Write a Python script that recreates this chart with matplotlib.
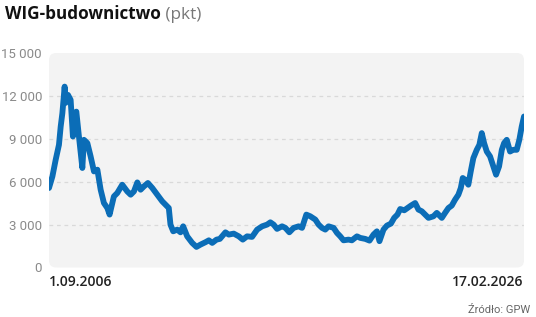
import matplotlib
matplotlib.use("Agg")
import matplotlib.pyplot as plt
import numpy as np
import pandas as pd
from matplotlib.patches import FancyBboxPatch
from matplotlib.ticker import FuncFormatter

# WIG-budownictwo, index points
dates = [
    "2006-09-01", "2006-10-22", "2006-12-10", "2007-01-28", "2007-02-23", "2007-03-20",
    "2007-04-23", "2007-05-08", "2007-06-12", "2007-07-22", "2007-08-25", "2007-10-15",
    "2007-11-23", "2008-01-13", "2008-02-06", "2008-03-28", "2008-05-16", "2008-07-05",
    "2008-08-25", "2008-10-13", "2008-12-01", "2009-01-21", "2009-02-24", "2009-04-29",
    "2009-06-19", "2009-09-01", "2009-11-15", "2010-01-05", "2010-02-23", "2010-04-15",
    "2010-06-03", "2010-07-22", "2010-09-20", "2010-11-25", "2011-02-07", "2011-04-22",
    "2011-06-10", "2011-07-30", "2011-08-24", "2011-10-04", "2011-12-03", "2012-01-21",
    "2012-03-01", "2012-04-30", "2012-07-14", "2012-09-16", "2012-11-15", "2013-01-29",
    "2013-03-20", "2013-05-10", "2013-07-13", "2013-09-01", "2013-11-24", "2014-01-12",
    "2014-03-28", "2014-06-11", "2014-08-10", "2014-10-14", "2014-12-27", "2015-03-13",
    "2015-05-27", "2015-08-09", "2015-09-27", "2015-11-15", "2016-01-05", "2016-03-20",
    "2016-05-09", "2016-07-07", "2016-09-09", "2016-11-23", "2017-01-13", "2017-03-18",
    "2017-05-17", "2017-07-31", "2017-09-18", "2017-11-08", "2017-12-27", "2018-02-14",
    "2018-05-01", "2018-06-20", "2018-08-08", "2018-09-26", "2018-12-09", "2019-01-29",
    "2019-04-15", "2019-06-03", "2019-08-17", "2019-10-20", "2019-12-18", "2020-02-07",
    "2020-03-17", "2020-05-16", "2020-07-06", "2020-09-04", "2020-10-23", "2020-12-11",
    "2021-01-21", "2021-03-23", "2021-05-11", "2021-07-01", "2021-09-02", "2021-10-21",
    "2021-12-11", "2022-01-30", "2022-03-20", "2022-06-03", "2022-07-23", "2022-10-06",
    "2022-11-24", "2023-01-13", "2023-03-04", "2023-04-22", "2023-06-11", "2023-07-17",
    "2023-08-15", "2023-09-19", "2023-11-07", "2023-12-13", "2024-01-21", "2024-03-12",
    "2024-04-20", "2024-05-26", "2024-06-30", "2024-08-09", "2024-09-27", "2024-11-15",
    "2024-12-26", "2025-02-09", "2025-03-22", "2025-04-25", "2025-06-04", "2025-07-23",
    "2025-09-10", "2025-10-31", "2025-12-09", "2026-01-14", "2026-02-17",
]
values = [
    5560, 6370, 7535, 8580, 9860, 10790,
    12650, 11510, 12070, 11720, 9160, 10900,
    9160, 6960, 8930, 8700, 7770, 6720,
    6840, 5440, 4510, 4160, 3700, 4970,
    5210, 5790, 5320, 5090, 5320, 5950,
    5440, 5670, 5910, 5560, 5090, 4630,
    4400, 4160, 3000, 2530, 2650, 2460,
    2880, 2180, 1720, 1440, 1600, 1770,
    1900, 1720, 1950, 2000, 2460, 2300,
    2370, 2180, 1950, 2180, 2140, 2650,
    2880, 3000, 3160, 3000, 2700, 2880,
    2770, 2460, 2770, 2880, 2770, 3700,
    3580, 3350, 3000, 2770, 2650, 2880,
    2770, 2420, 2180, 1900, 1950, 1900,
    2180, 2070, 2000, 1880, 2300, 2530,
    1840, 2650, 2930, 3070, 3470, 3700,
    4090, 4000, 4160, 4330, 4510, 4050,
    3930, 3700, 3470, 3580, 3820, 3470,
    3820, 4160, 4330, 4740, 5090, 5560,
    6260, 6140, 5790, 6720, 7650, 8230,
    8580, 9400, 8700, 8110, 7770, 7070,
    6490, 7070, 8230, 8700, 8930, 8110,
    8230, 8230, 8930, 9860, 10560,
]
y_ticks = [0, 3000, 6000, 9000, 12000, 15000]
start_label = "1.09.2006"
end_label = "17.02.2026"

x = pd.to_datetime(dates)

fig = plt.figure(figsize=(5.36, 3.17), dpi=100)
ax = fig.add_axes([49 / 536, 1 - 267.5 / 317, 475 / 536, 214.5 / 317])
ax.set_facecolor("none")

# rounded light-gray plot background
bg = FancyBboxPatch((0, 0), 1, 1, boxstyle="round,pad=0,rounding_size=0.015",
                    transform=ax.transAxes, facecolor="#f3f3f3", edgecolor="none",
                    zorder=0, mutation_aspect=2.2)
ax.add_patch(bg)

for v in y_ticks[1:-1]:
    ax.axhline(v, color="#d9d9d9", lw=0.9, ls=(0, (3, 3)), zorder=1)

ax.plot(x, values, color="#0b6db7", lw=4.2, solid_joinstyle="round",
        solid_capstyle="round", zorder=3)

ax.set_xlim(x[0], x[-1])
ax.set_ylim(0, 15000)
ax.set_yticks(y_ticks)
ax.yaxis.set_major_formatter(FuncFormatter(lambda v, p: f"{int(v):,}".replace(",", " ")))
ax.tick_params(axis="y", length=0, pad=5, labelsize=9.5, labelcolor="#8a8a8a")
for lab in ax.get_yticklabels():
    lab.set_family("Roboto")
ax.set_xticks([])
for s in ax.spines.values():
    s.set_visible(False)

fig.text(49 / 536, 1 - 282 / 317, start_label, ha="left", va="center",
         fontsize=10, family="Open Sans", weight="semibold", color="#222222")
fig.text(523 / 536, 1 - 282 / 317, end_label, ha="right", va="center",
         fontsize=10, family="Open Sans", weight="semibold", color="#222222")
fig.text(530 / 536, 1 - 310 / 317, "Źródło: GPW", ha="right", va="center",
         fontsize=8, family="Roboto", color="#666666")

title = fig.text(5 / 536, 1 - 23 / 317, "WIG-budownictwo", ha="left", va="bottom",
                 fontsize=12.3, family="Open Sans", weight="bold", color="#111111")
fig.canvas.draw()
ax.annotate(" (pkt)", xy=(1, 0), xycoords=title, ha="left", va="bottom",
            fontsize=12.3, family="Open Sans", color="#777777")

fig.savefig("out.png", dpi=100)
